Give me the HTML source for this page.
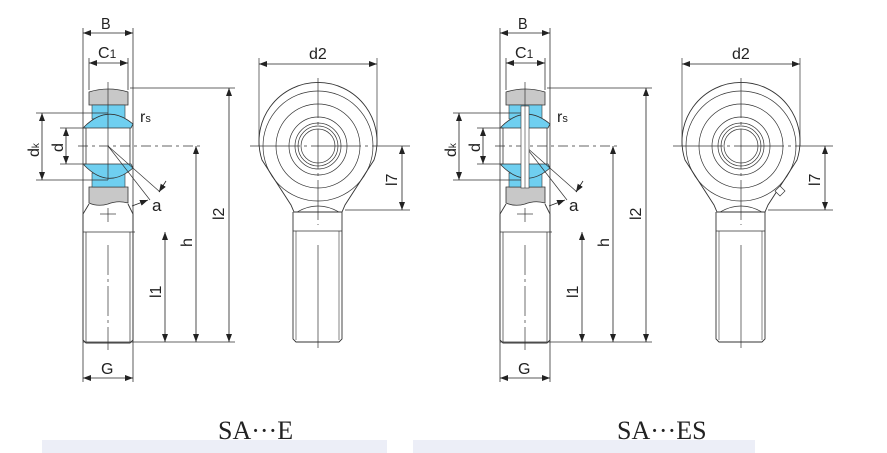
<!DOCTYPE html>
<html><head><meta charset="utf-8"><style>
html,body{margin:0;padding:0;background:#fff;width:887px;height:453px;overflow:hidden}
svg{display:block}
text{font-family:"Liberation Sans",sans-serif;fill:#222}
</style></head><body>
<svg width="887" height="453" viewBox="0 0 887 453" xmlns="http://www.w3.org/2000/svg">
<defs>
<marker id="ar" markerWidth="8" markerHeight="6" refX="8" refY="3" orient="auto-start-reverse" markerUnits="userSpaceOnUse"><path d="M0,0 L8,3 L0,6 z" fill="#222"/></marker>
<g id="side">
  <line x1="83" y1="28" x2="83" y2="382" stroke="#333" stroke-width="0.8"/>
  <line x1="133" y1="28" x2="133" y2="382" stroke="#333" stroke-width="0.8"/>
  <line x1="89" y1="58" x2="89" y2="90" stroke="#333" stroke-width="0.8"/>
  <line x1="128" y1="58" x2="128" y2="90" stroke="#333" stroke-width="0.8"/>
  <line x1="83" y1="33" x2="133" y2="33" stroke="#222" stroke-width="0.8" marker-start="url(#ar)" marker-end="url(#ar)"/>
  <line x1="89" y1="63" x2="128" y2="63" stroke="#222" stroke-width="0.8" marker-start="url(#ar)" marker-end="url(#ar)"/>
  <text x="101" y="29" font-size="16" transform="translate(101,0) scale(0.9,1) translate(-101,0)">B</text>
  <text x="98" y="58" font-size="16">C<tspan font-size="12">1</tspan></text>
  <path d="M89,92 Q108,86 128,92 L128,105 L89,105 Z" fill="#c8c8c8" stroke="#333" stroke-width="0.8"/>
  <path d="M89,187 L128,187 L128,203 Q118,200 108,204 Q98,207 89,203 Z" fill="#c8c8c8" stroke="#333" stroke-width="0.8"/>
  <rect x="92" y="105" width="33" height="14" fill="#6fcff0" stroke="#333" stroke-width="0.6"/>
  <rect x="92" y="173" width="33" height="14" fill="#6fcff0" stroke="#333" stroke-width="0.6"/>
  <path d="M84,127 Q108,103 133,124 L131,128 L84,128 Z" fill="#6fcff0" stroke="#333" stroke-width="0.8"/>
  <path d="M84,164 L131,164 L133,168 Q108,190 84,165 Z" fill="#6fcff0" stroke="#333" stroke-width="0.8"/>
  <line x1="86" y1="128" x2="86" y2="164" stroke="#333" stroke-width="0.8"/>
  <line x1="130" y1="128" x2="130" y2="164" stroke="#333" stroke-width="0.8"/>
  <path d="M89,204 L83,214 L83,340 L86,343 L130,343 L133,340 L133,214 L128,204" fill="none" stroke="#333" stroke-width="0.9"/>
  <line x1="86" y1="232" x2="86" y2="342" stroke="#333" stroke-width="0.7"/>
  <line x1="130" y1="232" x2="130" y2="342" stroke="#333" stroke-width="0.7"/>
  <line x1="83" y1="232" x2="135" y2="232" stroke="#333" stroke-width="0.8"/>
  <line x1="83" y1="342" x2="235" y2="342" stroke="#333" stroke-width="0.8"/>
  <line x1="100" y1="214" x2="116" y2="214" stroke="#333" stroke-width="0.7"/>
  <line x1="108" y1="208" x2="108" y2="222" stroke="#333" stroke-width="0.7"/>
  <line x1="108" y1="82" x2="108" y2="180" stroke="#333" stroke-width="0.7"/>
  <line x1="108" y1="245" x2="108" y2="350" stroke="#333" stroke-width="0.7" stroke-dasharray="30,4,3,4"/>
  <line x1="78" y1="146" x2="200" y2="146" stroke="#333" stroke-width="0.7" stroke-dasharray="10,4,3,4"/>
  <line x1="36" y1="113" x2="108" y2="113" stroke="#333" stroke-width="0.7"/>
  <line x1="36" y1="180" x2="108" y2="180" stroke="#333" stroke-width="0.7"/>
  <line x1="60" y1="128" x2="86" y2="128" stroke="#333" stroke-width="0.7"/>
  <line x1="60" y1="164" x2="86" y2="164" stroke="#333" stroke-width="0.7"/>
  <line x1="42" y1="113" x2="42" y2="180" stroke="#222" stroke-width="0.8" marker-start="url(#ar)" marker-end="url(#ar)"/>
  <line x1="66" y1="128" x2="66" y2="164" stroke="#222" stroke-width="0.8" marker-start="url(#ar)" marker-end="url(#ar)"/>
  <text transform="translate(39,157) rotate(-90)" font-size="16">d<tspan font-size="10">k</tspan></text>
  <text transform="translate(63,152) rotate(-90)" font-size="16">d</text>
  <text x="140" y="122" font-size="16">r<tspan font-size="11">s</tspan></text>
  <line x1="108" y1="146" x2="160" y2="192" stroke="#333" stroke-width="0.7"/>
  <line x1="108" y1="146" x2="150" y2="200" stroke="#333" stroke-width="0.7"/>
  <path d="M166,181 L159,192" stroke="#222" stroke-width="0.8" marker-end="url(#ar)"/>
  <path d="M132,206 L148,200" stroke="#222" stroke-width="0.8" marker-end="url(#ar)"/>
  <text x="152" y="211" font-size="17">a</text>
  <line x1="130" y1="88" x2="235" y2="88" stroke="#333" stroke-width="0.7"/>
  <line x1="229" y1="88" x2="229" y2="342" stroke="#222" stroke-width="0.8" marker-start="url(#ar)" marker-end="url(#ar)"/>
  <line x1="196" y1="146" x2="196" y2="342" stroke="#222" stroke-width="0.8" marker-start="url(#ar)" marker-end="url(#ar)"/>
  <line x1="165" y1="232" x2="165" y2="342" stroke="#222" stroke-width="0.8" marker-start="url(#ar)" marker-end="url(#ar)"/>
  <text transform="translate(224,220) rotate(-90)" font-size="16">l2</text>
  <text transform="translate(192,247) rotate(-90)" font-size="16">h</text>
  <text transform="translate(161,298) rotate(-90)" font-size="16">l1</text>
  <line x1="83" y1="378" x2="133" y2="378" stroke="#222" stroke-width="0.8" marker-start="url(#ar)" marker-end="url(#ar)"/>
  <text x="101" y="374" font-size="16">G</text>
</g>
<g id="front">
  <path d="M262,160 A59,59 0 1,1 374,160 L345,205 L342,212 L294,212 L291,205 Z" fill="#fff" stroke="#333" stroke-width="0.9"/>
  <circle cx="318" cy="146" r="55" fill="none" stroke="#333" stroke-width="0.7"/>
  <circle cx="318" cy="146" r="42" fill="none" stroke="#333" stroke-width="0.7"/>
  <circle cx="318" cy="146" r="29" fill="none" stroke="#333" stroke-width="0.7"/>
  <circle cx="318" cy="146" r="23" fill="none" stroke="#333" stroke-width="0.7"/>
  <circle cx="318" cy="146" r="20" fill="none" stroke="#333" stroke-width="0.7"/>
  <circle cx="318" cy="146" r="17" fill="none" stroke="#333" stroke-width="0.7"/>
  <path d="M297,212 Q318,200 339,212" fill="none" stroke="#333" stroke-width="0.7"/>
  <path d="M293,212 L293,339 L296,342 L339,342 L342,339 L342,212" fill="none" stroke="#333" stroke-width="0.9"/>
  <line x1="293" y1="231" x2="342" y2="231" stroke="#333" stroke-width="0.8"/>
  <line x1="296" y1="231" x2="296" y2="340" stroke="#333" stroke-width="0.6"/>
  <line x1="339" y1="231" x2="339" y2="340" stroke="#333" stroke-width="0.6"/>
  <line x1="318" y1="78" x2="318" y2="225" stroke="#333" stroke-width="0.7" stroke-dasharray="40,4,3,4"/>
  <line x1="318" y1="245" x2="318" y2="348" stroke="#333" stroke-width="0.7"/>
  <line x1="250" y1="146" x2="410" y2="146" stroke="#333" stroke-width="0.7" stroke-dasharray="50,4,3,4"/>
  <line x1="259" y1="58" x2="259" y2="146" stroke="#333" stroke-width="0.7"/>
  <line x1="377" y1="58" x2="377" y2="146" stroke="#333" stroke-width="0.7"/>
  <line x1="259" y1="64" x2="377" y2="64" stroke="#222" stroke-width="0.8" marker-start="url(#ar)" marker-end="url(#ar)"/>
  <text x="309" y="59" font-size="16">d2</text>
  <line x1="345" y1="210" x2="410" y2="210" stroke="#333" stroke-width="0.7"/>
  <line x1="402" y1="146" x2="402" y2="210" stroke="#222" stroke-width="0.8" marker-start="url(#ar)" marker-end="url(#ar)"/>
  <text transform="translate(397,186) rotate(-90)" font-size="16">l7</text>
</g>
</defs>
<use href="#side"/>
<use href="#front"/>
<g transform="translate(417,0)">
  <use href="#side"/>
  <rect x="104" y="106" width="8" height="82" fill="#fff" stroke="#333" stroke-width="0.6"/>
  <line x1="108" y1="106" x2="108" y2="188" stroke="#333" stroke-width="0.6"/>
</g>
<g transform="translate(423,0)">
  <use href="#front"/>
  <path d="M357,186 L362,191 L357,196 L352,191 Z" fill="#fff" stroke="#333" stroke-width="0.7"/>
</g>
<rect x="42" y="440" width="345" height="13" fill="#eceef7"/>
<rect x="413" y="440" width="342" height="13" fill="#eceef7"/>
<text x="218" y="439" font-size="26" style="font-family:'Liberation Serif',serif">SA···E</text>
<text x="617" y="439" font-size="26" style="font-family:'Liberation Serif',serif">SA···ES</text>
</svg>
</body></html>
